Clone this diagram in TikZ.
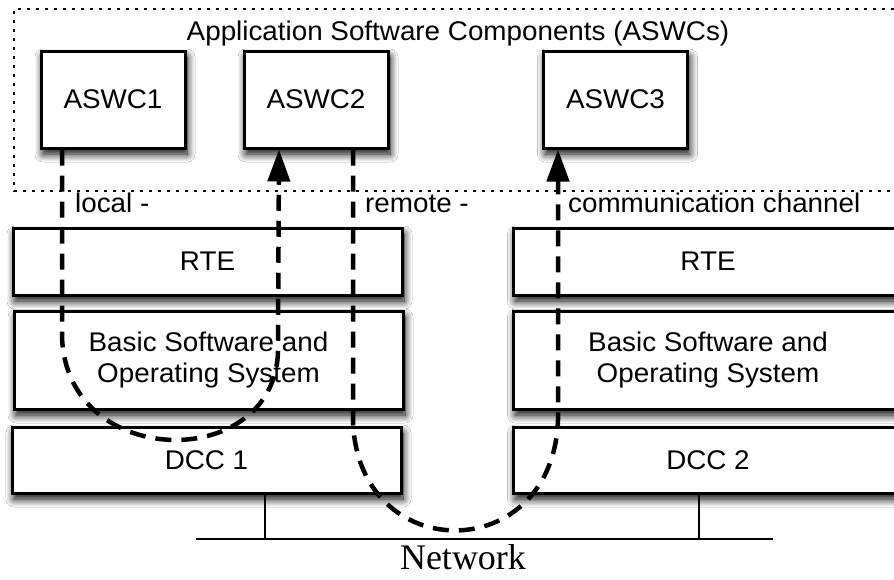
\documentclass[tikz,border=0pt]{standalone}
\usepackage{fontspec}
\setmainfont{Liberation Sans}[FakeStretch=1.03]
\newfontfamily\netfont{Liberation Serif}
\usetikzlibrary{arrows.meta,shadows.blur,calc}

\begin{document}
\begin{tikzpicture}[x=1pt,y=-1pt,
  txt/.style={font=\fontsize{27}{31}\selectfont},
  box/.style={draw,line width=3pt,fill=white,inner sep=0pt,txt,align=center,
    blur shadow={shadow xshift=2pt,shadow yshift=-6pt,shadow blur radius=8pt,
      shadow blur steps=12,shadow opacity=100}},
  swc/.style={box,minimum width=144pt,minimum height=97pt},
  layer/.style={box,minimum width=389pt},
  flow/.style={line width=4.5pt,dash pattern=on 16pt off 10pt,
    -{Triangle[length=32pt,width=22pt]}},
  lbl/.style={txt,anchor=base west,inner sep=0pt},
  frame/.style={line width=2.6pt,dash pattern=on 3pt off 6pt},
  wire/.style={line width=1.6pt}]
\useasboundingbox (0,0) rectangle (894,579);
\clip (0,0) rectangle (894,579);
\fill[white] (0,0) rectangle (894,579);

% component area
\draw[frame] (894,9) -| (14,191) -- (894,191);
\node[txt,anchor=base] (title) at (458,40) {Application Software Components (ASWCs)};

\node[swc] (aswc1) at (113,99.5) {ASWC1};
\node[swc] (aswc2) at (316,99.5) {ASWC2};
\node[swc] (aswc3) at (615.5,99.5) {ASWC3};

% ECU 1 stack
\node[layer,minimum height=67pt] (rte1) at (207.5,261.5) {RTE};
\node[layer,minimum height=98pt] (bsw1) at (208.5,360) {Basic Software and\\Operating System};
\node[layer,minimum height=66pt] (dcc1) at (206.5,460) {DCC 1};

% ECU 2 stack
\node[layer,minimum height=67pt] (rte2) at (708,261.5) {RTE};
\node[layer,minimum height=98pt] (bsw2) at (708,360) {Basic Software and\\Operating System};
\node[layer,minimum height=66pt] (dcc2) at (708,460) {DCC 2};

% network bus
\coordinate (netL) at (196,539);
\coordinate (netR) at (773,539);
\draw[wire] (netL) -- (netR);
\draw[wire] ([xshift=58.5pt]dcc1.south) -- ([xshift=58.5pt]dcc1.south |- netL);
\draw[wire] ([xshift=-9pt]dcc2.south) -- ([xshift=-9pt]dcc2.south |- netL);
\node[font=\netfont\fontsize{36}{40}\selectfont,anchor=base] (net) at (463,569) {Network};

% channel labels
\node[lbl] (local) at (75,212) {local -};
\node[lbl] (remote) at (365,212) {remote -};
\node[lbl] (channel) at (568,212) {communication channel};

% local and remote communication
\draw[flow] ([xshift=-51pt]aswc1.south) -- ++(0,187)
  .. controls (66,473) and (282,473) .. (278,345)
  -- ([xshift=-37pt]aswc2.south);
\draw[flow] ([xshift=37pt]aswc2.south) -- ++(0,272)
  .. controls (358,567) and (553,567) .. (558,420)
  -- ([xshift=-57.5pt]aswc3.south);
\end{tikzpicture}
\end{document}
